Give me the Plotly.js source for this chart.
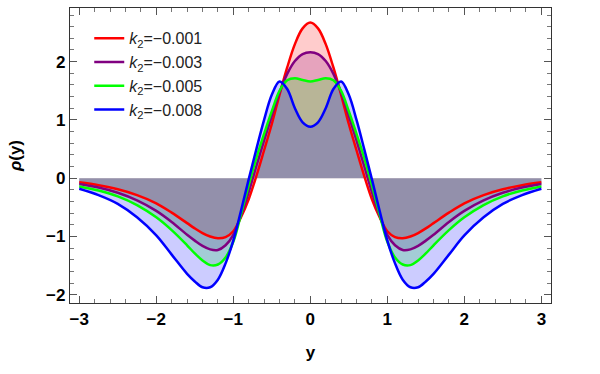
<!DOCTYPE html>
<html>
<head>
<meta charset="utf-8">
<script src="https://cdn.plot.ly/plotly-3.0.1.min.js"></script>
<style>
  html, body { margin: 0; padding: 0; background: #fff; }
  #plot { width: 600px; height: 374px; }
</style>
</head>
<body>
<div id="plot"></div>
<script>
// y values (horizontal axis)
var yPos = [-3, -2.75, -2.5, -2.25, -2, -1.8, -1.6, -1.5, -1.4, -1.3, -1.2, -1.1, -1.0, -0.9, -0.8, -0.7, -0.6, -0.5, -0.4, -0.3, -0.2, -0.1,
            0, 0.1, 0.2, 0.3, 0.4, 0.5, 0.6, 0.7, 0.8, 0.9, 1.0, 1.1, 1.2, 1.3, 1.4, 1.5, 1.6, 1.8, 2, 2.25, 2.5, 2.75, 3];

// rho(y) for each k2
var rhoK1 = [-0.07, -0.12, -0.19, -0.29, -0.43, -0.59, -0.77, -0.86, -0.94, -1.00, -1.03, -1.01, -0.91, -0.67, -0.36, 0.04, 0.48, 0.93, 1.43, 1.90, 2.30, 2.57,
             2.67, 2.57, 2.30, 1.90, 1.43, 0.93, 0.48, 0.04, -0.36, -0.67, -0.91, -1.01, -1.03, -1.00, -0.94, -0.86, -0.77, -0.59, -0.43, -0.29, -0.19, -0.12, -0.07];
var rhoK3 = [-0.10, -0.16, -0.25, -0.38, -0.56, -0.75, -0.97, -1.07, -1.16, -1.22, -1.23, -1.15, -0.97, -0.64, -0.24, 0.21, 0.65, 1.07, 1.47, 1.79, 2.01, 2.13,
             2.16, 2.13, 2.01, 1.79, 1.47, 1.07, 0.65, 0.21, -0.24, -0.64, -0.97, -1.15, -1.23, -1.22, -1.16, -1.07, -0.97, -0.75, -0.56, -0.38, -0.25, -0.16, -0.10];
var rhoK5 = [-0.14, -0.21, -0.31, -0.46, -0.67, -0.89, -1.15, -1.29, -1.41, -1.49, -1.48, -1.36, -1.09, -0.62, -0.12, 0.35, 0.76, 1.15, 1.50, 1.68, 1.715, 1.685,
             1.66, 1.685, 1.715, 1.68, 1.50, 1.15, 0.76, 0.35, -0.12, -0.62, -1.09, -1.36, -1.48, -1.49, -1.41, -1.29, -1.15, -0.89, -0.67, -0.46, -0.31, -0.21, -0.14];
var rhoK8 = [-0.18, -0.29, -0.44, -0.67, -0.98, -1.31, -1.64, -1.77, -1.87, -1.87, -1.74, -1.46, -1.07, -0.56, -0.02, 0.50, 1.00, 1.43, 1.66, 1.53, 1.20, 0.96,
             0.885, 0.96, 1.20, 1.53, 1.66, 1.43, 1.00, 0.50, -0.02, -0.56, -1.07, -1.46, -1.74, -1.87, -1.87, -1.77, -1.64, -1.31, -0.98, -0.67, -0.44, -0.29, -0.18];

var seriesNames = ["<i>k</i><sub>2</sub>=\u22120.001", "<i>k</i><sub>2</sub>=\u22120.003",
                   "<i>k</i><sub>2</sub>=\u22120.005", "<i>k</i><sub>2</sub>=\u22120.008"];
var seriesVals = [rhoK1, rhoK3, rhoK5, rhoK8];
var lineColors = ["#ff0000", "#800080", "#00ff00", "#0000ff"];
var fillColors = ["rgba(255,0,0,0.2)", "rgba(128,0,128,0.2)", "rgba(0,255,0,0.2)", "rgba(0,0,255,0.2)"];

// fills first, so every curve sits on top of all the shading
var fills = seriesVals.map(function (vals, i) {
  return {
    x: yPos, y: vals,
    type: "scatter", mode: "lines",
    line: {width: 0, shape: "spline", smoothing: 1, color: lineColors[i]},
    fill: "tozeroy", fillcolor: fillColors[i],
    showlegend: false, hoverinfo: "skip"
  };
});

var curves = seriesVals.map(function (vals, i) {
  return {
    x: yPos, y: vals,
    name: seriesNames[i],
    type: "scatter", mode: "lines",
    line: {color: lineColors[i], width: 2.5, shape: "spline", smoothing: 1}
  };
});

var data = fills.concat(curves);

var axisFont = {family: "Liberation Sans, Arial, sans-serif", size: 17, color: "#000", weight: "bold"};

var layout = {
  width: 600,
  height: 374,
  margin: {l: 70, r: 49, t: 8, b: 71},
  paper_bgcolor: "#fff",
  plot_bgcolor: "#fff",
  showlegend: true,
  legend: {
    x: 0.04, y: 0.955, xanchor: "left", yanchor: "top",
    bgcolor: "rgba(0,0,0,0)",
    itemwidth: 30,
    font: {family: "Liberation Sans, Arial, sans-serif", size: 16, color: "#222"}
  },
  xaxis: {
    range: [-3.12, 3.125],
    showgrid: false, zeroline: false,
    showline: true, mirror: "ticks", linecolor: "#333", linewidth: 1.2,
    ticks: "inside", ticklen: 7, tickcolor: "#555", tickwidth: 1,
    dtick: 1, tick0: 0,
    minor: {dtick: 0.2, ticks: "inside", ticklen: 4, tickcolor: "#777", showgrid: false},
    tickfont: axisFont,
    title: {text: "<b>y</b>", font: axisFont, standoff: 18}
  },
  yaxis: {
    range: [-2.14, 2.92],
    showgrid: false, zeroline: false,
    showline: true, mirror: "ticks", linecolor: "#333", linewidth: 1.2,
    ticks: "inside", ticklen: 7, tickcolor: "#555", tickwidth: 1,
    dtick: 1, tick0: 0,
    minor: {dtick: 0.2, ticks: "inside", ticklen: 4, tickcolor: "#777", showgrid: false},
    tickfont: axisFont,
    title: {text: "<b><i>ρ</i>(y)</b>", font: axisFont, standoff: 20}
  }
};

Plotly.newPlot("plot", data, layout, {displayModeBar: false, staticPlot: true});
</script>
</body>
</html>
